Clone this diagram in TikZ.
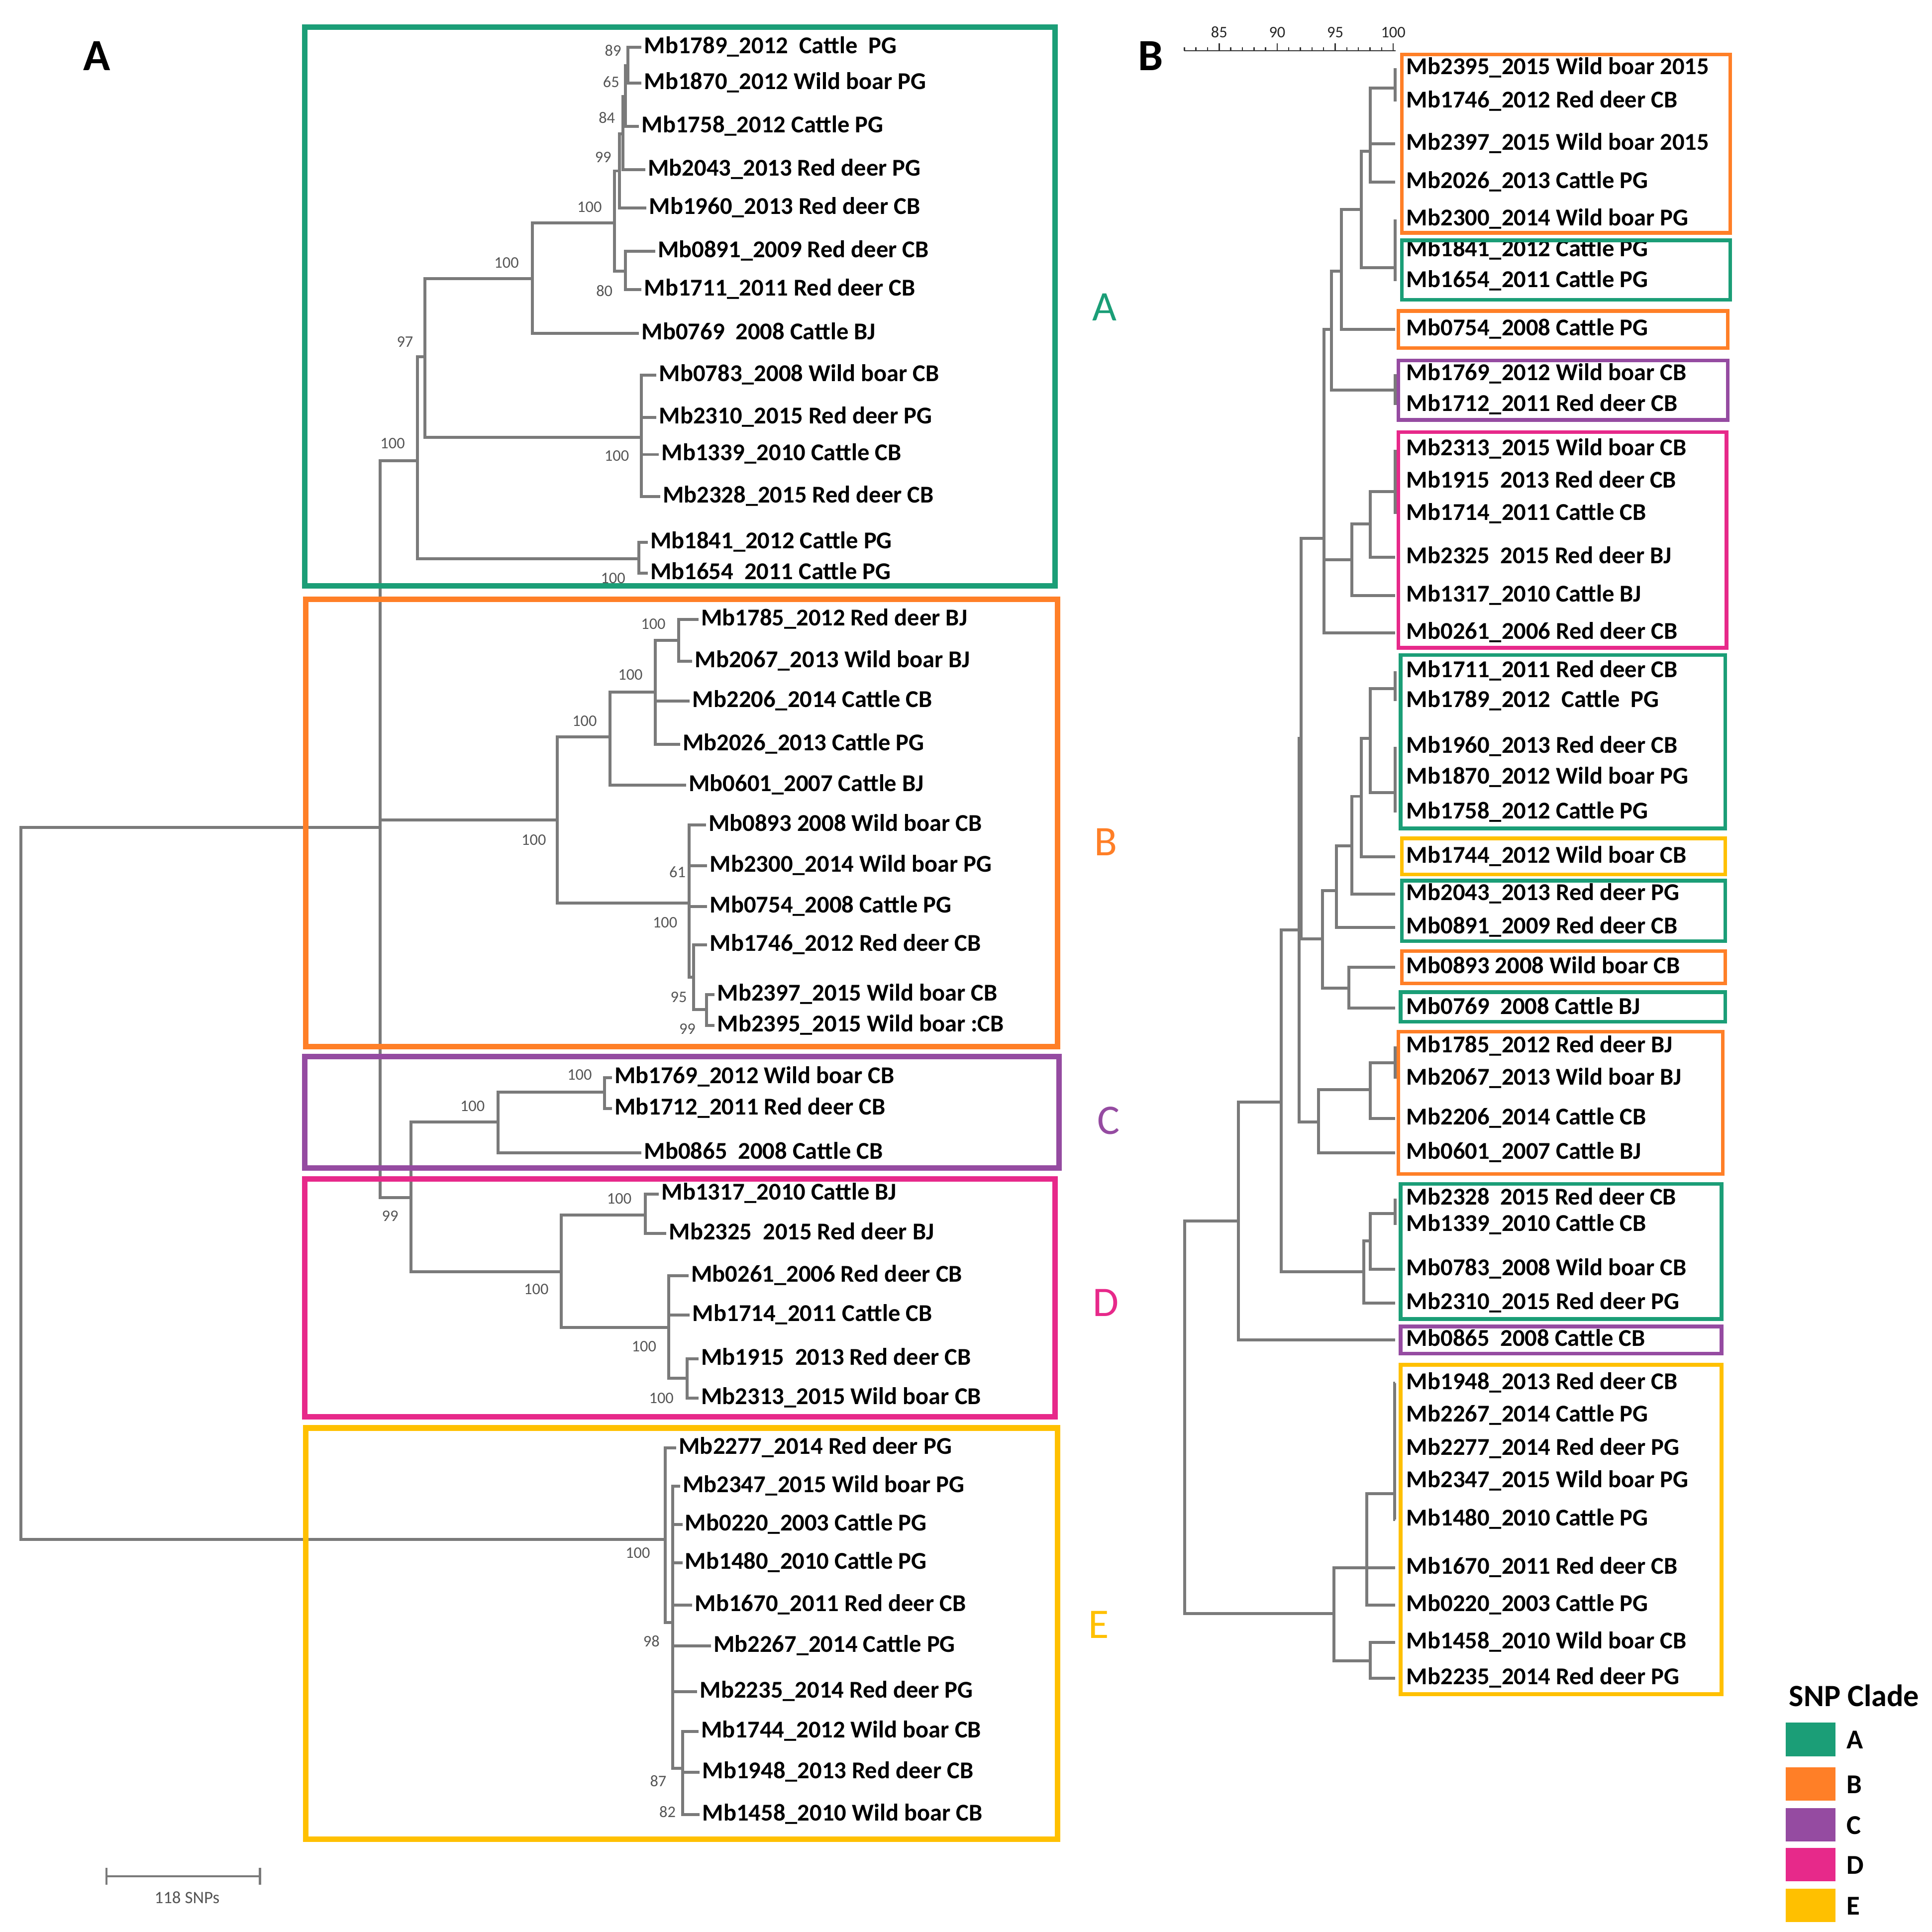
\documentclass[tikz,border=0pt]{standalone}
\usepackage{fontspec}
\setmainfont{Carlito}
\definecolor{cladeA}{HTML}{1B9E77}
\definecolor{cladeB}{HTML}{FF7F27}
\definecolor{cladeC}{HTML}{954BA1}
\definecolor{cladeD}{HTML}{E7298A}
\definecolor{cladeE}{HTML}{FFC000}
\definecolor{treegray}{HTML}{7A7A7A}
\definecolor{bootgray}{HTML}{555555}
\tikzset{
  branch/.style={treegray, line width=2.4pt},
  leaf/.style={anchor=west, inner xsep=2pt, inner ysep=0pt, text height=13pt, text depth=3pt, font=\bfseries\fontsize{19.5}{20}\selectfont},
  rleaf/.style={leaf, inner xsep=9pt},
  boot/.style={inner sep=0pt, text=bootgray, font=\fontsize{13}{13}\selectfont},
  lbox/.style={line width=4.5pt},
  rbox/.style={line width=3pt},
  cladelabel/.style={font=\fontsize{34}{34}\selectfont},
  panel/.style={font=\bfseries\fontsize{36}{36}\selectfont}
}
\begin{document}
\begin{tikzpicture}[x=1pt, y=-1pt]
  \useasboundingbox (0,0) rectangle (1560,1560);
  \node[panel] (panelA) at (78,45) {A};
  \node[panel] (panelB) at (929,45) {B};
  \foreach \nm/\x/\y in {a1/507/53, a2/505/78, a3/503/108, a4/500/138, a5/505/219, a6/496/180, a7/430/225,
      a8/518/353, a9/343/288, a10/516/451, a11/337/372, b1/548/517, b2/529/559, b3/492.5/595, b4/570.5/815,
      b5/560/789, b6/556.5/729, b7/450/662, c1/488/882, c2/402/906, d1/521/981, d2/555/1113, d3/540/1072,
      d4/453/1027, cd/332/967, g/307/668, e1/551/1428, e2/543/1310, e3/537/1243, rt/17/955}
    \coordinate (\nm) at (\x,\y);
  \foreach \pa/\ch in {a2/a1, a3/a2, a4/a3, a6/a4, a6/a5, a7/a6, a9/a7, a9/a8, a11/a9, a11/a10, b2/b1, b3/b2,
      b5/b4, b6/b5, b7/b3, b7/b6, c2/c1, d3/d2, d4/d1, d4/d3, cd/c2, cd/d4, g/a11, g/b7, g/cd, e2/e1, e3/e2, rt/g, rt/e3}
    \draw[branch] (\pa) |- (\ch);
  \foreach \pa/\nm/\x/\y/\txt in {
      a1/1789/520/38/{Mb1789\_2012~~Cattle~~PG}, a1/1870/520/67/{Mb1870\_2012 Wild boar PG},
      a2/1758/518/102/{Mb1758\_2012 Cattle PG}, a3/2043/523/137/{Mb2043\_2013 Red deer PG},
      a4/1960/524/168/{Mb1960\_2013 Red deer CB}, a5/0891/531/203/{Mb0891\_2009 Red deer CB},
      a5/1711/520/234/{Mb1711\_2011 Red deer CB}, a7/0769/518/269/{Mb0769~~2008 Cattle BJ},
      a8/0783/532/303/{Mb0783\_2008 Wild boar CB}, a8/2310/532/337/{Mb2310\_2015 Red deer PG},
      a8/1339/534/367/{Mb1339\_2010 Cattle CB}, a8/2328/535/401/{Mb2328\_2015 Red deer CB},
      a10/1841/525/438/{Mb1841\_2012 Cattle PG}, a10/1654/525/463/{Mb1654~~2011 Cattle PG},
      b1/1785/566/500/{Mb1785\_2012 Red deer BJ}, b1/2067/561/534/{Mb2067\_2013 Wild boar BJ},
      b2/2206/559/566/{Mb2206\_2014 Cattle CB}, b2/2026/551/601/{Mb2026\_2013 Cattle PG},
      b3/0601/556/634/{Mb0601\_2007 Cattle BJ}, b6/0893/572/666/{Mb0893 2008 Wild boar CB},
      b6/2300/573/699/{Mb2300\_2014 Wild boar PG}, b6/0754/573/732/{Mb0754\_2008 Cattle PG},
      b5/1746/573/763/{Mb1746\_2012 Red deer CB}, b4/2397/579/803/{Mb2397\_2015 Wild boar CB},
      b4/2395/579/828/{Mb2395\_2015 Wild boar :CB}, c1/1769/496/870/{Mb1769\_2012 Wild boar CB},
      c1/1712/496/895/{Mb1712\_2011 Red deer CB}, c2/0865/520/931/{Mb0865~~2008 Cattle CB},
      d1/1317/534/964/{Mb1317\_2010 Cattle BJ}, d1/2325/540/996/{Mb2325~~2015 Red deer BJ},
      d3/0261/558/1030/{Mb0261\_2006 Red deer CB}, d3/1714/559/1062/{Mb1714\_2011 Cattle CB},
      d2/1915/566/1097/{Mb1915~~2013 Red deer CB}, d2/2313/566/1129/{Mb2313\_2015 Wild boar CB},
      e3/2277/548/1169/{Mb2277\_2014 Red deer PG}, e2/2347/551/1200/{Mb2347\_2015 Wild boar PG},
      e2/0220/553/1231/{Mb0220\_2003 Cattle PG}, e2/1480/553/1262/{Mb1480\_2010 Cattle PG},
      e2/1670/561/1296/{Mb1670\_2011 Red deer CB}, e2/2267/576/1329/{Mb2267\_2014 Cattle PG},
      e2/2235/565/1366/{Mb2235\_2014 Red deer PG}, e1/1744/566/1398/{Mb1744\_2012 Wild boar CB},
      e1/1948/567/1431/{Mb1948\_2013 Red deer CB}, e1/1458/567/1465/{Mb1458\_2010 Wild boar CB}}
  {
    \node[leaf] (L\nm) at (\x-2,\y) {\txt};
    \draw[branch] (\pa) |- (L\nm.west);
  }
  \foreach \x/\y/\v [count=\i] in {495/41/89, 493.5/66/65, 490/95/84, 487/127/99, 476/167/100, 409/212/100,
      488/235/80, 327/276/97, 317/358/100, 498/368/100, 495/467/100, 527.5/504/100, 509/545/100, 472/582/100,
      431/678/100, 547/704/61, 537/745/100, 548/805/95, 555/831/99, 468/868/100, 381.5/893/100, 315/982/99,
      500/968/100, 433/1041/100, 520/1087/100, 534/1129/100, 515/1254/100, 526/1325/98, 531.5/1438/87, 539/1463/82}
    \node[boot] (bs\i) at (\x,\y) {\v};
  \draw[lbox, cladeA] (246,22) rectangle (852,473);
  \draw[lbox, cladeB] (247,484) rectangle (854,845);
  \draw[lbox, cladeC] (246,853) rectangle (855,943);
  \draw[lbox, cladeD] (246,952) rectangle (852,1144);
  \draw[lbox, cladeE] (247,1153) rectangle (854,1485);
  \node[cladelabel, text=cladeA] (labA) at (892,248) {A};
  \node[cladelabel, text=cladeB] (labB) at (893,680) {B};
  \node[cladelabel, text=cladeC] (labC) at (895,905) {C};
  \node[cladelabel, text=cladeD] (labD) at (893,1052) {D};
  \node[cladelabel, text=cladeE] (labE) at (887,1312) {E};
  \coordinate (sb1) at (86,1515);
  \coordinate (sb2) at (210,1515);
  \draw[line width=1.8pt, treegray] (sb1) -- (sb2);
  \draw[line width=1.8pt, treegray] ([yshift=-7pt]sb1) -- ([yshift=7pt]sb1);
  \draw[line width=1.8pt, treegray] ([yshift=-7pt]sb2) -- ([yshift=7pt]sb2);
  \node[boot, font=\fontsize{14}{14}\selectfont] (sblabel) at (151,1532) {118 SNPs};
  \draw[line width=1pt, black!80] (956,41) -- (1127,41);
  \foreach \k in {82,...,100}
    \draw[line width=1pt, black!80] ({984.4+(\k-85)*9.37},41) -- ++(0,-3);
  \foreach \k in {85,90,95,100} {
    \draw[line width=1pt, black!80] ({984.4+(\k-85)*9.37},41) -- ++(0,-6);
    \node[boot, text=black!85, font=\fontsize{13}{13}\selectfont] (ax\k) at ({984.4+(\k-85)*9.37},26) {\k};
  }
  \foreach \nm/\x/\y in {p1/1126.5/71, p2/1106.6/122, p3/1126.5/216, p4/1099/169, p5/1083/219, p6/1126.5/315,
      p7/1075/266, p8/1126.5/397, p9/1106.6/423, p10/1091.5/452, p11/1069/434.5, p12/1126.5/556, p13/1126.5/640,
      p14/1106.6/596, p15/1099/643, p16/1091.5/683, p17/1079/719, p18/1089/798, p19/1068/758, p20/1050.5/596,
      p21/1126.5/858, p22/1106.6/880, p23/1064.7/906, p24/1049/751, p25/1126.5/980, p26/1106.6/1002,
      p27/1101/1027, p28/1034.6/890, p29/1000/986, p30/1126/1206, p31/1103.5/1266, p32/1106.4/1341,
      p33/1077/1303, rroot/956.7/1144}
    \coordinate (\nm) at (\x,\y);
  \foreach \pa/\ch in {p2/p1, p4/p2, p4/p3, p5/p4, p7/p5, p7/p6, p9/p8, p10/p9, p11/p7, p11/p10, p14/p12,
      p14/p13, p15/p14, p16/p15, p17/p16, p19/p17, p19/p18, p20/p11, p20/p19, p22/p21, p23/p22, p24/p20,
      p24/p23, p26/p25, p27/p26, p28/p24, p28/p27, p29/p28, p31/p30, p33/p31, p33/p32, rroot/p29, rroot/p33}
    \draw[branch] (\pa) |- (\ch);
  \foreach \pa/\nm/\y/\txt in {
      p1/2395/55/{Mb2395\_2015 Wild boar 2015}, p1/1746/82/{Mb1746\_2012 Red deer CB},
      p2/2397/116/{Mb2397\_2015 Wild boar 2015}, p2/2026/147/{Mb2026\_2013 Cattle PG},
      p3/2300/177/{Mb2300\_2014 Wild boar PG}, p3/1841/202/{Mb1841\_2012 Cattle PG},
      p3/1654/227/{Mb1654\_2011 Cattle PG}, p5/0754/266/{Mb0754\_2008 Cattle PG},
      p6/1769/302/{Mb1769\_2012 Wild boar CB}, p6/1712/327/{Mb1712\_2011 Red deer CB},
      p8/2313/363/{Mb2313\_2015 Wild boar CB}, p8/1915/389/{Mb1915~~2013 Red deer CB},
      p8/1714/415/{Mb1714\_2011 Cattle CB}, p9/2325/450/{Mb2325~~2015 Red deer BJ},
      p10/1317/481/{Mb1317\_2010 Cattle BJ}, p11/0261/511/{Mb0261\_2006 Red deer CB},
      p12/1711/542/{Mb1711\_2011 Red deer CB}, p12/1789/566/{Mb1789\_2012~~Cattle~~PG},
      p13/1960/603/{Mb1960\_2013 Red deer CB}, p13/1870/628/{Mb1870\_2012 Wild boar PG},
      p13/1758/656/{Mb1758\_2012 Cattle PG}, p15/1744/692/{Mb1744\_2012 Wild boar CB},
      p16/2043/722/{Mb2043\_2013 Red deer PG}, p17/0891/749/{Mb0891\_2009 Red deer CB},
      p18/0893/781/{Mb0893 2008 Wild boar CB}, p18/0769/814/{Mb0769~~2008 Cattle BJ},
      p21/1785/845/{Mb1785\_2012 Red deer BJ}, p21/2067/871/{Mb2067\_2013 Wild boar BJ},
      p22/2206/903/{Mb2206\_2014 Cattle CB}, p23/0601/931/{Mb0601\_2007 Cattle BJ},
      p25/2328/968/{Mb2328~~2015 Red deer CB}, p25/1339/989/{Mb1339\_2010 Cattle CB},
      p26/0783/1025/{Mb0783\_2008 Wild boar CB}, p27/2310/1052/{Mb2310\_2015 Red deer PG},
      p29/0865/1082/{Mb0865~~2008 Cattle CB}, p30/1948/1117/{Mb1948\_2013 Red deer CB},
      p30/2267/1143/{Mb2267\_2014 Cattle PG}, p30/2277/1170/{Mb2277\_2014 Red deer PG},
      p30/2347/1196/{Mb2347\_2015 Wild boar PG}, p30/1480/1227/{Mb1480\_2010 Cattle PG},
      p31/1670/1266/{Mb1670\_2011 Red deer CB}, p31/0220/1296/{Mb0220\_2003 Cattle PG},
      p32/1458/1326/{Mb1458\_2010 Wild boar CB}, p32/2235/1355/{Mb2235\_2014 Red deer PG}}
  {
    \node[rleaf] (R\nm) at (1126.5,\y) {\txt};
    \draw[branch] (\pa) |- (R\nm.west);
  }
  \draw[rbox, cladeB] (1132,44) rectangle (1397,188);
  \draw[rbox, cladeA] (1132,194) rectangle (1397,242);
  \draw[rbox, cladeB] (1129,251) rectangle (1395,281);
  \draw[rbox, cladeC] (1129,291) rectangle (1395,339);
  \draw[rbox, cladeD] (1129,349) rectangle (1394,523);
  \draw[rbox, cladeA] (1131,529) rectangle (1393,669);
  \draw[rbox, cladeE] (1132,677) rectangle (1393,706);
  \draw[rbox, cladeA] (1132,711) rectangle (1393,760);
  \draw[rbox, cladeB] (1132,768) rectangle (1393,794);
  \draw[rbox, cladeA] (1131,801) rectangle (1393,825);
  \draw[rbox, cladeB] (1129,833) rectangle (1391,948);
  \draw[rbox, cladeA] (1131,956) rectangle (1390,1065);
  \draw[rbox, cladeC] (1131,1071) rectangle (1390,1093);
  \draw[rbox, cladeE] (1131,1102) rectangle (1390,1368);
  \node[font=\bfseries\fontsize{25}{25}\selectfont] (legtitle) at (1497,1369) {SNP Clade};
  \foreach \c/\y/\l [count=\i] in {cladeA/1391/A, cladeB/1427/B, cladeC/1460/C, cladeD/1492/D, cladeE/1525/E} {
    \fill[\c] (1442,\y) rectangle ++(40,27);
    \node[anchor=west, inner sep=0pt, font=\bfseries\fontsize{22}{22}\selectfont] (leg\i) at (1491,\y+14) {\l};
  }
\end{tikzpicture}
\end{document}
